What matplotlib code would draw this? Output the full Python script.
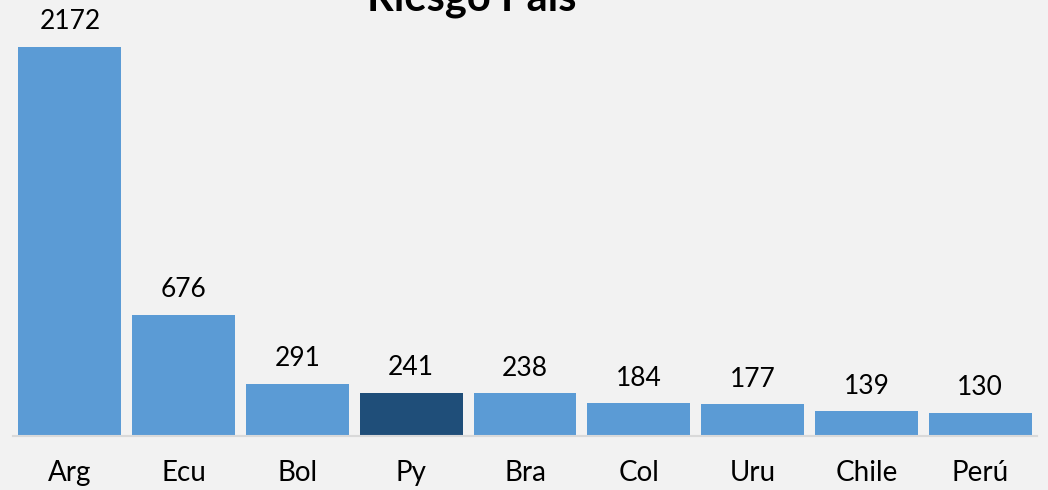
import matplotlib
matplotlib.use("Agg")
import matplotlib.pyplot as plt

categories = ["Arg", "Ecu", "Bol", "Py", "Bra", "Col", "Uru", "Chile", "Perú"]
values = [2172, 676, 291, 241, 238, 184, 177, 139, 130]
highlight = "Py"
title = "Riesgo País"

light = "#5b9bd5"
dark = "#1f4e79"
bg = "#f2f2f2"

plt.rcParams['font.family'] = ['Lato', 'DejaVu Sans']

W, H = 1048, 490
fig = plt.figure(figsize=(W / 100, H / 100), dpi=100, facecolor=bg)
ax = fig.add_axes([13 / W, 54 / H, (1037 - 13) / W, (436 - 47) / H], facecolor=bg)

colors = [dark if c == highlight else light for c in categories]
x = range(len(categories))
bars = ax.bar(x, values, width=0.905, color=colors, zorder=2)

ax.set_xlim(-0.5, len(categories) - 0.5)
ax.set_ylim(0, max(values))
ax.set_xticks(list(x))
ax.set_xticklabels(categories, fontsize=20, color="black")
ax.tick_params(axis='x', length=0, pad=17)
ax.set_yticks([])
for s in ["top", "right", "left"]:
    ax.spines[s].set_visible(False)
ax.spines["bottom"].set_color("#d9d9d9")
ax.spines["bottom"].set_linewidth(1.5)
ax.spines["bottom"].set_zorder(3)

for b, v in zip(bars, values):
    ax.annotate(f"{v}", (b.get_x() + b.get_width() / 2, v), xytext=(0, 9),
                textcoords="offset points", ha="center", va="bottom",
                fontsize=19, color="black", annotation_clip=False)

fig.text(472 / W, (H - 11) / H, title, ha="center", va="baseline",
         fontsize=30, fontweight="bold", color="black")

fig.savefig("out.png", dpi=100, facecolor=bg)
